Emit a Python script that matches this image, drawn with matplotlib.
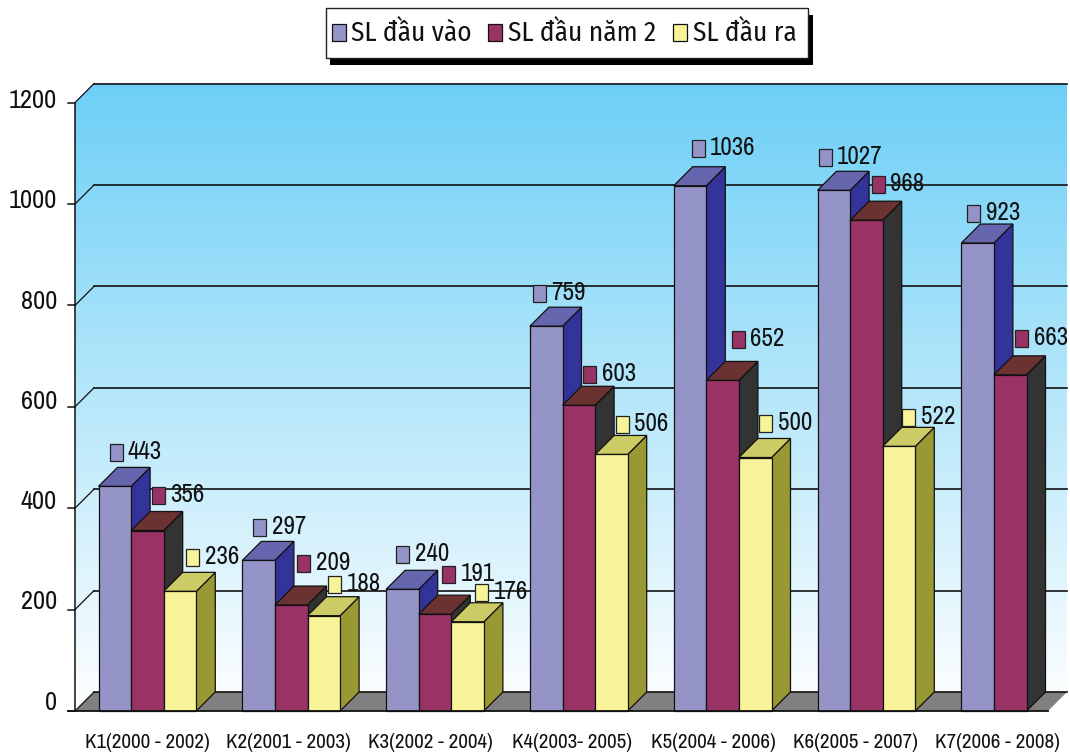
#!/usr/bin/env python3
"""
Recreate 3D-style clustered bar chart of student counts per course
"""

import matplotlib
matplotlib.use('Agg')
import matplotlib.pyplot as plt
from matplotlib.patches import Polygon, Rectangle
from matplotlib import font_manager
import numpy as np

# Data
courses = ['K1(2000 - 2002)', 'K2(2001 - 2003)', 'K3(2002 - 2004)', 'K4(2003- 2005)',
           'K5(2004 - 2006)', 'K6(2005 - 2007)', 'K7(2006 - 2008)']
series_names = ['SL đầu vào', 'SL đầu năm 2', 'SL đầu ra']
sl_dau_vao = [443, 297, 240, 759, 1036, 1027, 923]
sl_dau_nam2 = [356, 209, 191, 603, 652, 968, 663]
sl_dau_ra = [236, 188, 176, 506, 500, 522, None]
y_ticks = [0, 200, 400, 600, 800, 1000, 1200]

# Hand placed offsets of the value labels, in pixels (right, down)
label_nudge = [
    [(0, 1), (0, 2), (-1, 0), (-8, 2), (7, -2), (-10, 2), (-5, 5)],
    [(-1, 0), (1, -7), (2, -5), (-1, 4), (4, -6), (0, -1), (0, -1)],
    [(1, 1), (-1, 4), (2, 6), (-1, 5), (-1, 1), (-2, 6), (0, 0)],
]

# Narrow fonts when they are there, otherwise plain Liberation Sans made smaller
names = {f.name for f in font_manager.fontManager.ttflist}
narrow = [n for n in ['Archivo Narrow', 'PT Sans Narrow', 'Fira Sans Condensed'] if n in names]
condensed = [n for n in ['Fira Sans Condensed'] if n in names]
k = 1.0 if narrow else 0.82
k_leg = 1.0 if condensed else 0.82
num_font = narrow + ['Liberation Sans', 'DejaVu Sans']
leg_font = condensed + ['Liberation Sans', 'DejaVu Sans']

# Colors: front, top, side
colors = [
    ('#9594C8', '#6666AE', '#333399'),
    ('#993366', '#6B3232', '#333333'),
    ('#F7F398', '#CCCC66', '#999933'),
]

# x axis runs in pixels, y axis in chart values
SCALE = 0.507
ZERO_PX = 711
fig = plt.figure(figsize=(10.7, 7.56), dpi=100)
ax = fig.add_axes([0, 0, 1, 1])
ax.axis('off')

PX = 1 / SCALE
DX, DY = 19, 19 * PX
LEFT, RIGHT, BACK_RIGHT = 75, 1048, 1067
ymax = y_ticks[-1]
LW = 0.9
INK = '#111111'


def py(p):
    return (ZERO_PX - p) / SCALE


# Back wall and side wall with the gradient
grad = np.linspace(0, 1, 256).reshape(-1, 1)
sky = np.array([0x6D, 0xCF, 0xF6]) / 255
rgb = (1 - grad[..., None]) * sky + grad[..., None] * np.array([1, 1, 1])
wall = Polygon([(LEFT, 0), (LEFT, ymax), (LEFT + DX, ymax + DY), (BACK_RIGHT, ymax + DY),
                (BACK_RIGHT, DY), (LEFT + DX, DY)],
               closed=True, facecolor='none', edgecolor='none')
ax.add_patch(wall)
im = ax.imshow(rgb, extent=(LEFT, BACK_RIGHT, 0, ymax + DY), aspect='auto', zorder=1)
im.set_clip_path(wall)
ax.set_xlim(0, 1070)
ax.set_ylim(py(756), py(0))

# Floor
ax.add_patch(Polygon([(LEFT, 0), (LEFT + DX, DY), (BACK_RIGHT, DY), (RIGHT, 0)],
                     closed=True, facecolor='#808080', edgecolor='none', zorder=2))

# Grid lines and ticks
for t in y_ticks:
    ax.plot([LEFT + DX, BACK_RIGHT], [t + DY, t + DY], color=INK, lw=1.2, zorder=3)
    ax.plot([LEFT, LEFT + DX], [t, t + DY], color=INK, lw=0.9, zorder=3)
    ax.plot([LEFT - 7, LEFT], [t, t], color=INK, lw=1.1, zorder=3)
    ax.text(57, py(702 - t * 0.501), str(t), ha='right', va='center', fontsize=19 * k,
            family=num_font, color=INK, zorder=6)
ax.plot([LEFT, LEFT], [0, ymax], color=INK, lw=1.1, zorder=3)
ax.plot([LEFT - 7, RIGHT], [0, 0], color=INK, lw=1.3, zorder=5)


def draw_bar(x, w, v, cols, z):
    ax.add_patch(Polygon([(x + w, 0), (x + w + DX, DY), (x + w + DX, v + DY), (x + w, v)],
                         closed=True, facecolor=cols[2], edgecolor=INK, lw=LW, zorder=z))
    ax.add_patch(Polygon([(x, v), (x + DX, v + DY), (x + w + DX, v + DY), (x + w, v)],
                         closed=True, facecolor=cols[1], edgecolor=INK, lw=LW, zorder=z))
    ax.add_patch(Rectangle((x, 0), w, v, facecolor=cols[0], edgecolor=INK, lw=LW, zorder=z))


# Bars
BAR_W = 32.6
GROUP_STEP = 143.8
label_dx = [17.5, 28, 28]
all_series = [sl_dau_vao, sl_dau_nam2, sl_dau_ra]
z = 4
for i in range(len(courses)):
    for s, vals in enumerate(all_series):
        if vals[i] is None:
            continue
        x = 98.5 + GROUP_STEP * i + s * BAR_W
        draw_bar(x, BAR_W, vals[i], colors[s], z)
        z += 0.01

# Data labels with colored key squares
for i in range(len(courses)):
    for s, vals in enumerate(all_series):
        if vals[i] is None:
            continue
        nx, ny = label_nudge[s][i]
        cx = 98.5 + GROUP_STEP * i + s * BAR_W + label_dx[s] + nx
        cy = vals[i] + (35 - ny) * PX
        ax.add_patch(Rectangle((cx - 6.5, cy - 8.5 * PX), 13, 17 * PX, facecolor=colors[s][0],
                               edgecolor='#222222', lw=0.9, zorder=8))
        ax.text(cx + 12, cy + 1 * PX, str(vals[i]), ha='left', va='center', fontsize=18 * k,
                family=num_font, color=INK, zorder=9)

# Category labels
for i, name in enumerate(courses):
    ax.text(147 + 141.7 * i, -31 * PX, name, ha='center', va='center', fontsize=15.1 * k,
            family=num_font, color=INK)

# Legend box with shadow
ax.add_patch(Rectangle((330, py(65)), 483, 50 * PX, facecolor='black', edgecolor='none', zorder=10))
ax.add_patch(Rectangle((326, py(58)), 482, 50 * PX, facecolor='white', edgecolor='#222222', lw=1, zorder=11))
for sq, tx, name, cols in zip([332, 488, 673], [351, 508, 693], series_names, colors):
    ax.add_patch(Rectangle((sq, py(41)), 14, 17 * PX, facecolor=cols[0], edgecolor=INK, lw=0.9, zorder=12))
    ax.text(tx, py(33), name, ha='left', va='center', fontsize=19.6 * k_leg, family=leg_font,
            color=INK, zorder=12)

plt.savefig('out.png', dpi=100)
